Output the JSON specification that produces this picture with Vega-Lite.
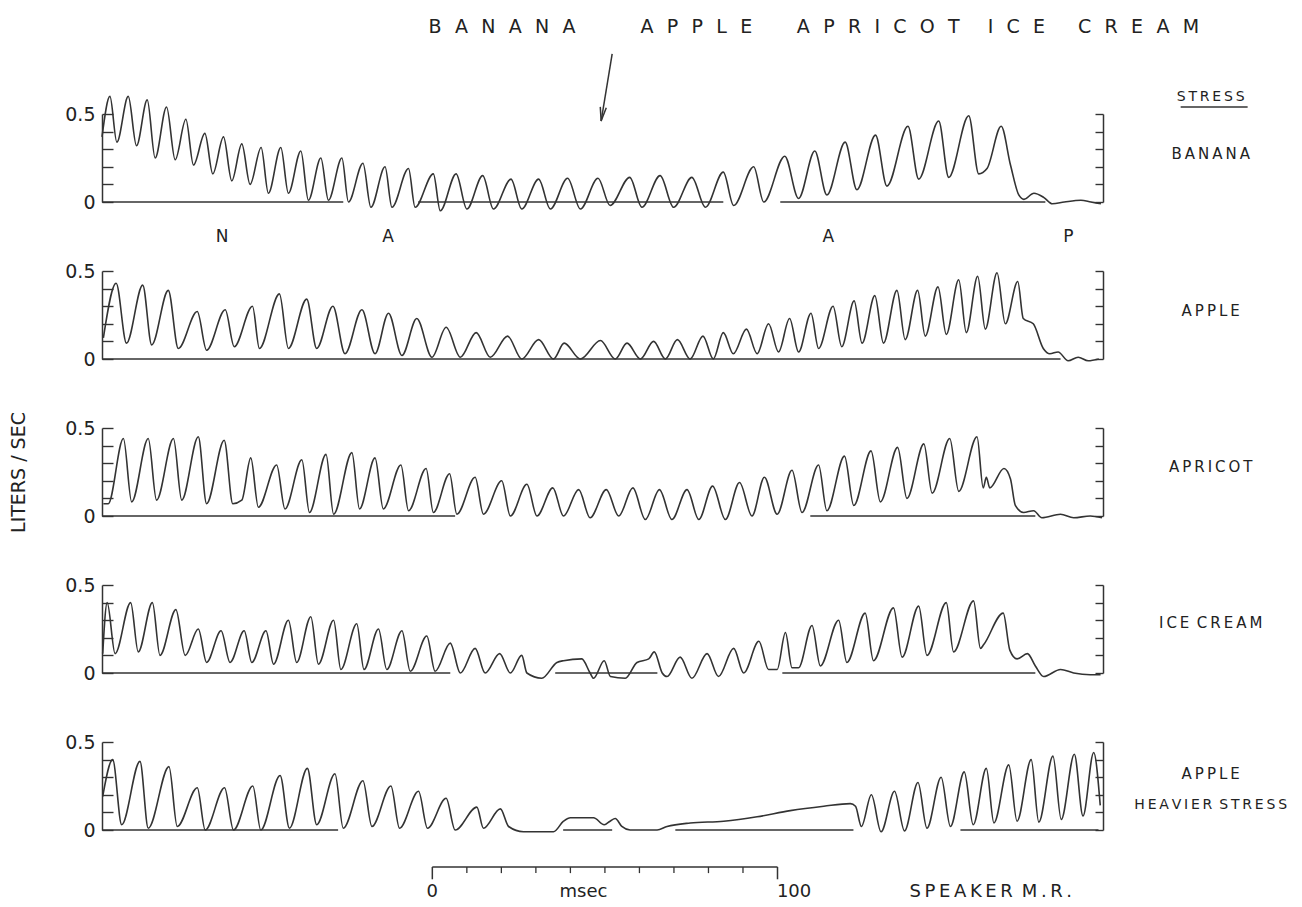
{
"$schema":"https://vega.github.io/schema/vega-lite/v6.json",
"background":"white",
"padding":{"left":9,"top":18,"right":2,"bottom":2},
"config":{"view":{"stroke":null},"font":"DejaVu Sans","text":{"color":"#222","font":"DejaVu Sans"}},
"spacing":69,
"bounds":"flush",
"datasets":{
"wave":[
{"p":1,"t":0,"v":0.37},{"p":1,"t":2.3,"v":0.6},{"p":1,"t":4.3,"v":0.34},{"p":1,"t":7.6,"v":0.6},{"p":1,"t":10,"v":0.32},{"p":1,"t":13.1,"v":0.58},{"p":1,"t":15.4,"v":0.25},{"p":1,"t":18.7,"v":0.54},{"p":1,"t":21.2,"v":0.24},{"p":1,"t":24.3,"v":0.47},{"p":1,"t":26.5,"v":0.21},{"p":1,"t":29.8,"v":0.39},{"p":1,"t":32.1,"v":0.16},{"p":1,"t":35.2,"v":0.37},{"p":1,"t":37.6,"v":0.12},{"p":1,"t":40.5,"v":0.33},{"p":1,"t":42.9,"v":0.1},{"p":1,"t":46.1,"v":0.31},{"p":1,"t":48.2,"v":0.05},{"p":1,"t":51.8,"v":0.31},{"p":1,"t":54,"v":0.05},{"p":1,"t":57.6,"v":0.29},{"p":1,"t":59.8,"v":0.01},{"p":1,"t":63.4,"v":0.25},{"p":1,"t":65.6,"v":0.01},{"p":1,"t":69.5,"v":0.25},{"p":1,"t":71.4,"v":0},{"p":1,"t":75.6,"v":0.22},{"p":1,"t":77.9,"v":-0.03},{"p":1,"t":82,"v":0.2},{"p":1,"t":84,"v":-0.03},{"p":1,"t":88.8,"v":0.19},{"p":1,"t":90.7,"v":-0.03},{"p":1,"t":96,"v":0.16},{"p":1,"t":98,"v":-0.05},{"p":1,"t":102.6,"v":0.16},{"p":1,"t":105.7,"v":-0.04},{"p":1,"t":110.3,"v":0.15},{"p":1,"t":113.4,"v":-0.04},{"p":1,"t":118.5,"v":0.13},{"p":1,"t":121.6,"v":-0.04},{"p":1,"t":126.5,"v":0.13},{"p":1,"t":129.9,"v":-0.04},{"p":1,"t":134.9,"v":0.135},{"p":1,"t":138.6,"v":-0.04},{"p":1,"t":143.7,"v":0.135},{"p":1,"t":147.2,"v":-0.02},{"p":1,"t":152.9,"v":0.14},{"p":1,"t":156.4,"v":-0.03},{"p":1,"t":161.7,"v":0.15},{"p":1,"t":165.6,"v":-0.03},{"p":1,"t":170.9,"v":0.14},{"p":1,"t":174.8,"v":-0.03},{"p":1,"t":180,"v":0.17},{"p":1,"t":183,"v":-0.02},{"p":1,"t":188.8,"v":0.2},{"p":1,"t":191.7,"v":0},{"p":1,"t":197.8,"v":0.26},{"p":1,"t":201.8,"v":0.02},{"p":1,"t":206.5,"v":0.29},{"p":1,"t":210,"v":0.04},{"p":1,"t":215.3,"v":0.34},{"p":1,"t":218.7,"v":0.07},{"p":1,"t":224.1,"v":0.38},{"p":1,"t":227.4,"v":0.09},{"p":1,"t":233.5,"v":0.43},{"p":1,"t":236.6,"v":0.13},{"p":1,"t":242.4,"v":0.46},{"p":1,"t":245.3,"v":0.14},{"p":1,"t":251.1,"v":0.49},{"p":1,"t":254,"v":0.16},{"p":1,"t":256.4,"v":0.19},{"p":1,"t":260.5,"v":0.43},{"p":1,"t":263.2,"v":0.21},{"p":1,"t":265.6,"v":0.04},{"p":1,"t":267.1,"v":0.015},{"p":1,"t":270,"v":0.05},{"p":1,"t":272.9,"v":0.025},{"p":1,"t":275.3,"v":-0.01},{"p":1,"t":278.8,"v":0},{"p":1,"t":283.6,"v":0.01},{"p":1,"t":286.5,"v":0},{"p":1,"t":289.4,"v":-0.01},
{"p":2,"t":0.4,"v":0.12},{"p":2,"t":4.1,"v":0.43},{"p":2,"t":7.1,"v":0.09},{"p":2,"t":11.8,"v":0.42},{"p":2,"t":14.4,"v":0.08},{"p":2,"t":19.2,"v":0.39},{"p":2,"t":22.1,"v":0.06},{"p":2,"t":27.6,"v":0.27},{"p":2,"t":30.3,"v":0.05},{"p":2,"t":35.7,"v":0.28},{"p":2,"t":38.3,"v":0.07},{"p":2,"t":43.6,"v":0.3},{"p":2,"t":45.6,"v":0.06},{"p":2,"t":51.4,"v":0.37},{"p":2,"t":54,"v":0.06},{"p":2,"t":59.3,"v":0.34},{"p":2,"t":62.2,"v":0.06},{"p":2,"t":66.9,"v":0.3},{"p":2,"t":70.4,"v":0.03},{"p":2,"t":75.3,"v":0.28},{"p":2,"t":79.1,"v":0.03},{"p":2,"t":83,"v":0.26},{"p":2,"t":86.9,"v":0.02},{"p":2,"t":91.2,"v":0.23},{"p":2,"t":95.6,"v":0.01},{"p":2,"t":99.7,"v":0.18},{"p":2,"t":103.8,"v":0.01},{"p":2,"t":108.4,"v":0.15},{"p":2,"t":112.5,"v":0.01},{"p":2,"t":117.5,"v":0.13},{"p":2,"t":121.6,"v":0},{"p":2,"t":126.5,"v":0.11},{"p":2,"t":130.8,"v":0},{"p":2,"t":133.9,"v":0.09},{"p":2,"t":138.6,"v":0},{"p":2,"t":144.4,"v":0.105},{"p":2,"t":148.7,"v":0},{"p":2,"t":152.1,"v":0.09},{"p":2,"t":156,"v":0},{"p":2,"t":159.8,"v":0.1},{"p":2,"t":163.2,"v":0},{"p":2,"t":166.7,"v":0.11},{"p":2,"t":170.4,"v":0},{"p":2,"t":174.1,"v":0.13},{"p":2,"t":177.1,"v":0},{"p":2,"t":180,"v":0.15},{"p":2,"t":182.9,"v":0.03},{"p":2,"t":186.7,"v":0.17},{"p":2,"t":189.8,"v":0.03},{"p":2,"t":193.1,"v":0.2},{"p":2,"t":196,"v":0.04},{"p":2,"t":199.2,"v":0.23},{"p":2,"t":201.8,"v":0.04},{"p":2,"t":205.4,"v":0.26},{"p":2,"t":207.6,"v":0.06},{"p":2,"t":211.8,"v":0.3},{"p":2,"t":214.3,"v":0.07},{"p":2,"t":217.9,"v":0.33},{"p":2,"t":220.2,"v":0.09},{"p":2,"t":223.9,"v":0.36},{"p":2,"t":226.4,"v":0.09},{"p":2,"t":230.3,"v":0.39},{"p":2,"t":232.7,"v":0.11},{"p":2,"t":236.3,"v":0.39},{"p":2,"t":238.5,"v":0.13},{"p":2,"t":242.2,"v":0.41},{"p":2,"t":244.6,"v":0.14},{"p":2,"t":248.2,"v":0.45},{"p":2,"t":250.4,"v":0.15},{"p":2,"t":253.7,"v":0.47},{"p":2,"t":255.9,"v":0.17},{"p":2,"t":259.3,"v":0.49},{"p":2,"t":261.7,"v":0.2},{"p":2,"t":265.3,"v":0.44},{"p":2,"t":266.9,"v":0.23},{"p":2,"t":269.8,"v":0.2},{"p":2,"t":272.7,"v":0.06},{"p":2,"t":274.6,"v":0.03},{"p":2,"t":277,"v":0.04},{"p":2,"t":279.9,"v":-0.01},{"p":2,"t":282.8,"v":0.01},{"p":2,"t":285.7,"v":-0.01},{"p":2,"t":288.8,"v":0},
{"p":3,"t":0.4,"v":0.07},{"p":3,"t":1.8,"v":0.07},{"p":3,"t":6.2,"v":0.44},{"p":3,"t":8.6,"v":0.08},{"p":3,"t":13.4,"v":0.44},{"p":3,"t":15.8,"v":0.09},{"p":3,"t":20.7,"v":0.44},{"p":3,"t":23.1,"v":0.09},{"p":3,"t":27.9,"v":0.45},{"p":3,"t":30.3,"v":0.07},{"p":3,"t":35.4,"v":0.43},{"p":3,"t":37.9,"v":0.07},{"p":3,"t":40.5,"v":0.09},{"p":3,"t":43.1,"v":0.33},{"p":3,"t":45.3,"v":0.05},{"p":3,"t":50.6,"v":0.29},{"p":3,"t":53,"v":0.04},{"p":3,"t":57.9,"v":0.32},{"p":3,"t":60.1,"v":0.02},{"p":3,"t":64.9,"v":0.35},{"p":3,"t":67.1,"v":0.01},{"p":3,"t":72.4,"v":0.36},{"p":3,"t":74.6,"v":0.04},{"p":3,"t":79.1,"v":0.33},{"p":3,"t":81.5,"v":0.04},{"p":3,"t":86.6,"v":0.29},{"p":3,"t":88.8,"v":0.03},{"p":3,"t":93.9,"v":0.27},{"p":3,"t":96,"v":0.02},{"p":3,"t":100.7,"v":0.24},{"p":3,"t":102.8,"v":0.01},{"p":3,"t":108.1,"v":0.22},{"p":3,"t":110.5,"v":0.01},{"p":3,"t":115.8,"v":0.2},{"p":3,"t":118.3,"v":0},{"p":3,"t":123.1,"v":0.18},{"p":3,"t":126,"v":0},{"p":3,"t":130.6,"v":0.16},{"p":3,"t":133.7,"v":0},{"p":3,"t":138.1,"v":0.15},{"p":3,"t":141.4,"v":-0.01},{"p":3,"t":146.1,"v":0.15},{"p":3,"t":149.7,"v":0},{"p":3,"t":153.8,"v":0.16},{"p":3,"t":157.4,"v":-0.02},{"p":3,"t":161.5,"v":0.15},{"p":3,"t":165.1,"v":-0.02},{"p":3,"t":169.5,"v":0.15},{"p":3,"t":172.9,"v":-0.02},{"p":3,"t":176.9,"v":0.17},{"p":3,"t":180.6,"v":-0.02},{"p":3,"t":184.7,"v":0.19},{"p":3,"t":188.3,"v":0},{"p":3,"t":191.9,"v":0.22},{"p":3,"t":195.6,"v":0.01},{"p":3,"t":199.9,"v":0.26},{"p":3,"t":202.8,"v":0.02},{"p":3,"t":207.6,"v":0.29},{"p":3,"t":210,"v":0.03},{"p":3,"t":215.1,"v":0.34},{"p":3,"t":217.8,"v":0.06},{"p":3,"t":222.8,"v":0.37},{"p":3,"t":225.5,"v":0.08},{"p":3,"t":230.5,"v":0.39},{"p":3,"t":233.2,"v":0.1},{"p":3,"t":238.1,"v":0.41},{"p":3,"t":240.5,"v":0.13},{"p":3,"t":245.6,"v":0.44},{"p":3,"t":248.2,"v":0.14},{"p":3,"t":253.5,"v":0.45},{"p":3,"t":255.3,"v":0.16},{"p":3,"t":256.2,"v":0.22},{"p":3,"t":257.2,"v":0.16},{"p":3,"t":261.3,"v":0.27},{"p":3,"t":263.2,"v":0.21},{"p":3,"t":264.6,"v":0.06},{"p":3,"t":267,"v":0.02},{"p":3,"t":269.9,"v":0.03},{"p":3,"t":272.3,"v":-0.01},{"p":3,"t":277.7,"v":0.01},{"p":3,"t":281.5,"v":-0.01},{"p":3,"t":286.3,"v":0},{"p":3,"t":289.7,"v":-0.01},
{"p":4,"t":0.2,"v":0.11},{"p":4,"t":1.5,"v":0.4},{"p":4,"t":3.8,"v":0.11},{"p":4,"t":8.3,"v":0.4},{"p":4,"t":10.5,"v":0.12},{"p":4,"t":14.6,"v":0.4},{"p":4,"t":16.8,"v":0.1},{"p":4,"t":21.4,"v":0.36},{"p":4,"t":24.1,"v":0.1},{"p":4,"t":27.9,"v":0.25},{"p":4,"t":30.3,"v":0.06},{"p":4,"t":34.5,"v":0.24},{"p":4,"t":37.1,"v":0.06},{"p":4,"t":41.2,"v":0.24},{"p":4,"t":43.4,"v":0.06},{"p":4,"t":47.5,"v":0.24},{"p":4,"t":49.7,"v":0.05},{"p":4,"t":54,"v":0.3},{"p":4,"t":56.4,"v":0.06},{"p":4,"t":60.5,"v":0.32},{"p":4,"t":62.7,"v":0.05},{"p":4,"t":67.1,"v":0.3},{"p":4,"t":69.2,"v":0.02},{"p":4,"t":73.8,"v":0.28},{"p":4,"t":75.9,"v":0.02},{"p":4,"t":80.1,"v":0.25},{"p":4,"t":82.5,"v":0.02},{"p":4,"t":86.9,"v":0.24},{"p":4,"t":89.3,"v":0.01},{"p":4,"t":94.1,"v":0.21},{"p":4,"t":96.5,"v":0.01},{"p":4,"t":100.9,"v":0.17},{"p":4,"t":103.8,"v":0},{"p":4,"t":108.1,"v":0.14},{"p":4,"t":111,"v":0},{"p":4,"t":115.2,"v":0.11},{"p":4,"t":118.3,"v":0},{"p":4,"t":121.6,"v":0.1},{"p":4,"t":123.1,"v":0},{"p":4,"t":127.4,"v":-0.03},{"p":4,"t":131.8,"v":0.06},{"p":4,"t":133.7,"v":0.07},{"p":4,"t":139,"v":0.08},{"p":4,"t":141.4,"v":0},{"p":4,"t":142.4,"v":-0.03},{"p":4,"t":145.5,"v":0.07},{"p":4,"t":147.3,"v":-0.02},{"p":4,"t":151.6,"v":-0.03},{"p":4,"t":155,"v":0.06},{"p":4,"t":158.4,"v":0.08},{"p":4,"t":160,"v":0.12},{"p":4,"t":162.3,"v":0},{"p":4,"t":163.7,"v":-0.02},{"p":4,"t":167.5,"v":0.09},{"p":4,"t":170.9,"v":-0.03},{"p":4,"t":175.3,"v":0.11},{"p":4,"t":178.6,"v":-0.02},{"p":4,"t":183,"v":0.14},{"p":4,"t":185.9,"v":0},{"p":4,"t":190.3,"v":0.18},{"p":4,"t":193.1,"v":0.02},{"p":4,"t":195.6,"v":0.02},{"p":4,"t":198,"v":0.23},{"p":4,"t":199.9,"v":0.03},{"p":4,"t":201.8,"v":0.03},{"p":4,"t":205.7,"v":0.27},{"p":4,"t":208.1,"v":0.04},{"p":4,"t":213.4,"v":0.3},{"p":4,"t":215.8,"v":0.06},{"p":4,"t":221.1,"v":0.34},{"p":4,"t":223.5,"v":0.07},{"p":4,"t":229.3,"v":0.37},{"p":4,"t":231.8,"v":0.09},{"p":4,"t":236.6,"v":0.38},{"p":4,"t":239,"v":0.1},{"p":4,"t":244.6,"v":0.4},{"p":4,"t":246.7,"v":0.12},{"p":4,"t":252.5,"v":0.41},{"p":4,"t":254.5,"v":0.14},{"p":4,"t":255.4,"v":0.16},{"p":4,"t":261.1,"v":0.34},{"p":4,"t":263,"v":0.13},{"p":4,"t":265.1,"v":0.08},{"p":4,"t":268.1,"v":0.11},{"p":4,"t":270.4,"v":0.04},{"p":4,"t":272.8,"v":-0.02},{"p":4,"t":277.7,"v":0.02},{"p":4,"t":281.5,"v":0},{"p":4,"t":286.3,"v":-0.01},{"p":4,"t":289.3,"v":-0.01},
{"p":5,"t":0.2,"v":0.19},{"p":5,"t":3.1,"v":0.4},{"p":5,"t":5.7,"v":0.03},{"p":5,"t":11,"v":0.39},{"p":5,"t":13.4,"v":0.01},{"p":5,"t":19.4,"v":0.36},{"p":5,"t":21.8,"v":0.02},{"p":5,"t":27.6,"v":0.24},{"p":5,"t":29.9,"v":0},{"p":5,"t":35.5,"v":0.24},{"p":5,"t":38.1,"v":0},{"p":5,"t":43.7,"v":0.25},{"p":5,"t":46,"v":0},{"p":5,"t":51.6,"v":0.31},{"p":5,"t":54.3,"v":0.01},{"p":5,"t":59.5,"v":0.35},{"p":5,"t":62.2,"v":0.03},{"p":5,"t":67.5,"v":0.32},{"p":5,"t":69.9,"v":0.01},{"p":5,"t":75.6,"v":0.28},{"p":5,"t":78.2,"v":0.02},{"p":5,"t":83.7,"v":0.25},{"p":5,"t":86.2,"v":0.01},{"p":5,"t":91.7,"v":0.22},{"p":5,"t":94.3,"v":0.01},{"p":5,"t":99.7,"v":0.18},{"p":5,"t":102.3,"v":0},{"p":5,"t":108.6,"v":0.13},{"p":5,"t":110.5,"v":0.01},{"p":5,"t":115.4,"v":0.12},{"p":5,"t":117.8,"v":0.02},{"p":5,"t":122.1,"v":-0.01},{"p":5,"t":130.8,"v":-0.01},{"p":5,"t":133.7,"v":0.05},{"p":5,"t":135.7,"v":0.07},{"p":5,"t":142.4,"v":0.07},{"p":5,"t":145.5,"v":0.03},{"p":5,"t":147.2,"v":0.05},{"p":5,"t":148.7,"v":0.065},{"p":5,"t":150.6,"v":0.02},{"p":5,"t":153,"v":0},{"p":5,"t":160.8,"v":0},{"p":5,"t":163.7,"v":0.02},{"p":5,"t":170.4,"v":0.04},{"p":5,"t":180.1,"v":0.05},{"p":5,"t":189.8,"v":0.075},{"p":5,"t":199.4,"v":0.11},{"p":5,"t":209.1,"v":0.135},{"p":5,"t":216.8,"v":0.15},{"p":5,"t":218.3,"v":0.135},{"p":5,"t":220,"v":0.02},{"p":5,"t":222.9,"v":0.2},{"p":5,"t":225.7,"v":-0.01},{"p":5,"t":229.6,"v":0.22},{"p":5,"t":232.5,"v":-0.005},{"p":5,"t":236.4,"v":0.27},{"p":5,"t":239,"v":0.01},{"p":5,"t":243.1,"v":0.3},{"p":5,"t":245.8,"v":0.02},{"p":5,"t":249.8,"v":0.33},{"p":5,"t":252.4,"v":0.03},{"p":5,"t":256.2,"v":0.35},{"p":5,"t":258.4,"v":0.04},{"p":5,"t":262.7,"v":0.37},{"p":5,"t":265.1,"v":0.05},{"p":5,"t":269.2,"v":0.4},{"p":5,"t":271.4,"v":0.045},{"p":5,"t":275.5,"v":0.42},{"p":5,"t":277.9,"v":0.06},{"p":5,"t":281.7,"v":0.43},{"p":5,"t":284.2,"v":0.08},{"p":5,"t":287.3,"v":0.44},{"p":5,"t":289.2,"v":0.14}
],
"base":[
{"p":1,"t0":0,"t1":69.9},{"p":1,"t0":91.6,"t1":180},{"p":1,"t0":196.5,"t1":273.3},
{"p":2,"t0":0,"t1":277.7},
{"p":3,"t0":0,"t1":102.3},{"p":3,"t0":205.2,"t1":270.4},
{"p":4,"t0":0,"t1":100.9},{"p":4,"t0":131.3,"t1":160.9},{"p":4,"t0":197.1,"t1":270.4},
{"p":5,"t0":0,"t1":68.4},{"p":5,"t0":133.6,"t1":147.8},{"p":5,"t0":166.1,"t1":217.7},{"p":5,"t0":248.7,"t1":288.7}
],
"side":[
{"p":1,"t":321.2,"v":0.275,"label":"B\u2009A\u2009N\u2009A\u2009N\u2009A"},
{"p":2,"t":321.2,"v":0.275,"label":"A\u2009P\u2009P\u2009L\u2009E"},
{"p":3,"t":321.2,"v":0.278,"label":"A\u2009P\u2009R\u2009I\u2009C\u2009O\u2009T"},
{"p":4,"t":321.2,"v":0.284,"label":"I\u2009C\u2009E\u2002C\u2009R\u2009E\u2009A\u2009M"},
{"p":5,"t":321.2,"v":0.318,"label":"A\u2009P\u2009P\u2009L\u2009E"}
]
},
"vconcat":[
{"width":1001,"height":88,
 "layer":[
  {"data":{"name":"wave"},"transform":[{"filter":"datum.p==1"}],"mark":{"type":"line","interpolate":"monotone","stroke":"#333","strokeWidth":1.6,"clip":false},
   "encoding":{"x":{"field":"t","type":"quantitative","scale":{"domain":[0,290]},"axis":null},
    "y":{"field":"v","type":"quantitative","scale":{"domain":[0,0.5]},"axis":{"orient":"left","values":[0,0.1,0.2,0.3,0.4,0.5],"labelExpr":"datum.value==0?'0':datum.value==0.5?'0.5':''","tickSize":-11,"labelPadding":18,"labelFontSize":19,"labelFont":"DejaVu Sans","labelColor":"#222","grid":false,"title":null,"domainWidth":1.5,"tickWidth":1.4,"domainColor":"#333","tickColor":"#333"}}}},
  {"data":{"name":"base"},"transform":[{"filter":"datum.p==1"}],"mark":{"type":"rule","stroke":"#333","strokeWidth":1.5},
   "encoding":{"x":{"field":"t0","type":"quantitative","scale":{"domain":[0,290]},"axis":null},"x2":{"field":"t1"},
    "y":{"datum":0,"type":"quantitative","scale":{"domain":[0,0.5]},"axis":{"orient":"right","values":[0,0.1,0.2,0.3,0.4,0.5],"labels":false,"tickSize":-8,"grid":false,"title":null,"domainWidth":1.5,"tickWidth":1.4,"domainColor":"#333","tickColor":"#333"}}}},
  {"data":{"name":"side"},"transform":[{"filter":"datum.p==1"}],"mark":{"type":"text","fontSize":15,"align":"center","baseline":"middle"},
   "encoding":{"x":{"field":"t","type":"quantitative","scale":{"domain":[0,290]},"axis":null},"y":{"field":"v","type":"quantitative","scale":{"domain":[0,0.5]},"axis":null},"text":{"field":"label"}}},
  {"data":{"values":[{"t":115.9,"v":0.994,"label":"B\u2002\u2009A\u2002\u2009N\u2002\u2009A\u2002\u2009N\u2002\u2009A"},{"t":172.2,"v":0.994,"label":"A\u2002\u2009P\u2002\u2009P\u2002\u2009L\u2002\u2009E"},{"t":224.9,"v":0.994,"label":"A\u2002\u2009P\u2002\u2009R\u2002\u2009I\u2002\u2009C\u2002\u2009O\u2002\u2009T"},{"t":264.9,"v":0.994,"label":"I\u2002\u2009C\u2002\u2009E"},{"t":300.3,"v":0.994,"label":"C\u2002\u2009R\u2002\u2009E\u2002\u2009A\u2002\u2009M"}]},
   "mark":{"type":"text","fontSize":19,"align":"center","baseline":"middle"},
   "encoding":{"x":{"field":"t","type":"quantitative","scale":{"domain":[0,290]},"axis":null},"y":{"field":"v","type":"quantitative","scale":{"domain":[0,0.5]},"axis":null},"text":{"field":"label"}}},
  {"data":{"values":[{"t":321.2,"v":0.597,"label":"S\u2009T\u2009R\u2009E\u2009S\u2009S"}]},
   "mark":{"type":"text","fontSize":14,"align":"center","baseline":"middle"},
   "encoding":{"x":{"field":"t","type":"quantitative","scale":{"domain":[0,290]},"axis":null},"y":{"field":"v","type":"quantitative","scale":{"domain":[0,0.5]},"axis":null},"text":{"field":"label"}}},
  {"data":{"values":[{"t":312.5,"t2":331.9,"v":0.54}]},"mark":{"type":"rule","stroke":"#333","strokeWidth":1.5},
   "encoding":{"x":{"field":"t","type":"quantitative","scale":{"domain":[0,290]},"axis":null},"x2":{"field":"t2"},"y":{"field":"v","type":"quantitative","scale":{"domain":[0,0.5]},"axis":null}}},
  {"data":{"values":[{"t":147.8,"v":0.841,"t2":144.6,"v2":0.46}]},"mark":{"type":"rule","stroke":"#333","strokeWidth":1.5},
   "encoding":{"x":{"field":"t","type":"quantitative","scale":{"domain":[0,290]},"axis":null},"x2":{"field":"t2"},"y":{"field":"v","type":"quantitative","scale":{"domain":[0,0.5]},"axis":null},"y2":{"field":"v2"}}},
  {"data":{"values":[{"t":144.6,"v":0.46}]},"mark":{"type":"point","shape":"M -0.35 -1.6 L 0 0 L 0.35 -1.6","size":300,"filled":false,"stroke":"#333","strokeWidth":1.5,"angle":9,"opacity":1},
   "encoding":{"x":{"field":"t","type":"quantitative","scale":{"domain":[0,290]},"axis":null},"y":{"field":"v","type":"quantitative","scale":{"domain":[0,0.5]},"axis":null}}},
  {"data":{"values":[{"t":34.8,"v":-0.199,"label":"N"},{"t":82.9,"v":-0.199,"label":"A"},{"t":210.4,"v":-0.199,"label":"A"},{"t":280,"v":-0.199,"label":"P"}]},
   "mark":{"type":"text","fontSize":17,"align":"center","baseline":"middle"},
   "encoding":{"x":{"field":"t","type":"quantitative","scale":{"domain":[0,290]},"axis":null},"y":{"field":"v","type":"quantitative","scale":{"domain":[0,0.5]},"axis":null},"text":{"field":"label"}}}
 ],
 "resolve":{"axis":{"y":"independent"}}
},
{"width":1001,"height":88,
 "layer":[
  {"data":{"name":"wave"},"transform":[{"filter":"datum.p==2"}],"mark":{"type":"line","interpolate":"monotone","stroke":"#333","strokeWidth":1.6,"clip":false},
   "encoding":{"x":{"field":"t","type":"quantitative","scale":{"domain":[0,290]},"axis":null},
    "y":{"field":"v","type":"quantitative","scale":{"domain":[0,0.5]},"axis":{"orient":"left","values":[0,0.1,0.2,0.3,0.4,0.5],"labelExpr":"datum.value==0?'0':datum.value==0.5?'0.5':''","tickSize":-11,"labelPadding":18,"labelFontSize":19,"labelFont":"DejaVu Sans","labelColor":"#222","grid":false,"title":null,"domainWidth":1.5,"tickWidth":1.4,"domainColor":"#333","tickColor":"#333"}}}},
  {"data":{"name":"base"},"transform":[{"filter":"datum.p==2"}],"mark":{"type":"rule","stroke":"#333","strokeWidth":1.5},
   "encoding":{"x":{"field":"t0","type":"quantitative","scale":{"domain":[0,290]},"axis":null},"x2":{"field":"t1"},
    "y":{"datum":0,"type":"quantitative","scale":{"domain":[0,0.5]},"axis":{"orient":"right","values":[0,0.1,0.2,0.3,0.4,0.5],"labels":false,"tickSize":-8,"grid":false,"title":null,"domainWidth":1.5,"tickWidth":1.4,"domainColor":"#333","tickColor":"#333"}}}},
  {"data":{"name":"side"},"transform":[{"filter":"datum.p==2"}],"mark":{"type":"text","fontSize":15,"align":"center","baseline":"middle"},
   "encoding":{"x":{"field":"t","type":"quantitative","scale":{"domain":[0,290]},"axis":null},"y":{"field":"v","type":"quantitative","scale":{"domain":[0,0.5]},"axis":null},"text":{"field":"label"}}}
 ],
 "resolve":{"axis":{"y":"independent"}}
},
{"width":1001,"height":88,
 "layer":[
  {"data":{"name":"wave"},"transform":[{"filter":"datum.p==3"}],"mark":{"type":"line","interpolate":"monotone","stroke":"#333","strokeWidth":1.6,"clip":false},
   "encoding":{"x":{"field":"t","type":"quantitative","scale":{"domain":[0,290]},"axis":null},
    "y":{"field":"v","type":"quantitative","scale":{"domain":[0,0.5]},"axis":{"orient":"left","values":[0,0.1,0.2,0.3,0.4,0.5],"labelExpr":"datum.value==0?'0':datum.value==0.5?'0.5':''","tickSize":-11,"labelPadding":18,"labelFontSize":19,"labelFont":"DejaVu Sans","labelColor":"#222","grid":false,"title":"LITERS / SEC","titleFont":"DejaVu Sans","titleFontSize":19,"titleFontWeight":"normal","titleColor":"#222","titlePadding":36,"domainWidth":1.5,"tickWidth":1.4,"domainColor":"#333","tickColor":"#333"}}}},
  {"data":{"name":"base"},"transform":[{"filter":"datum.p==3"}],"mark":{"type":"rule","stroke":"#333","strokeWidth":1.5},
   "encoding":{"x":{"field":"t0","type":"quantitative","scale":{"domain":[0,290]},"axis":null},"x2":{"field":"t1"},
    "y":{"datum":0,"type":"quantitative","scale":{"domain":[0,0.5]},"axis":{"orient":"right","values":[0,0.1,0.2,0.3,0.4,0.5],"labels":false,"tickSize":-8,"grid":false,"title":null,"domainWidth":1.5,"tickWidth":1.4,"domainColor":"#333","tickColor":"#333"}}}},
  {"data":{"name":"side"},"transform":[{"filter":"datum.p==3"}],"mark":{"type":"text","fontSize":15,"align":"center","baseline":"middle"},
   "encoding":{"x":{"field":"t","type":"quantitative","scale":{"domain":[0,290]},"axis":null},"y":{"field":"v","type":"quantitative","scale":{"domain":[0,0.5]},"axis":null},"text":{"field":"label"}}}
 ],
 "resolve":{"axis":{"y":"independent"}}
},
{"width":1001,"height":88,
 "layer":[
  {"data":{"name":"wave"},"transform":[{"filter":"datum.p==4"}],"mark":{"type":"line","interpolate":"monotone","stroke":"#333","strokeWidth":1.6,"clip":false},
   "encoding":{"x":{"field":"t","type":"quantitative","scale":{"domain":[0,290]},"axis":null},
    "y":{"field":"v","type":"quantitative","scale":{"domain":[0,0.5]},"axis":{"orient":"left","values":[0,0.1,0.2,0.3,0.4,0.5],"labelExpr":"datum.value==0?'0':datum.value==0.5?'0.5':''","tickSize":-11,"labelPadding":18,"labelFontSize":19,"labelFont":"DejaVu Sans","labelColor":"#222","grid":false,"title":null,"domainWidth":1.5,"tickWidth":1.4,"domainColor":"#333","tickColor":"#333"}}}},
  {"data":{"name":"base"},"transform":[{"filter":"datum.p==4"}],"mark":{"type":"rule","stroke":"#333","strokeWidth":1.5},
   "encoding":{"x":{"field":"t0","type":"quantitative","scale":{"domain":[0,290]},"axis":null},"x2":{"field":"t1"},
    "y":{"datum":0,"type":"quantitative","scale":{"domain":[0,0.5]},"axis":{"orient":"right","values":[0,0.1,0.2,0.3,0.4,0.5],"labels":false,"tickSize":-8,"grid":false,"title":null,"domainWidth":1.5,"tickWidth":1.4,"domainColor":"#333","tickColor":"#333"}}}},
  {"data":{"name":"side"},"transform":[{"filter":"datum.p==4"}],"mark":{"type":"text","fontSize":15,"align":"center","baseline":"middle"},
   "encoding":{"x":{"field":"t","type":"quantitative","scale":{"domain":[0,290]},"axis":null},"y":{"field":"v","type":"quantitative","scale":{"domain":[0,0.5]},"axis":null},"text":{"field":"label"}}}
 ],
 "resolve":{"axis":{"y":"independent"}}
},
{"width":1001,"height":88,
 "layer":[
  {"data":{"name":"wave"},"transform":[{"filter":"datum.p==5"}],"mark":{"type":"line","interpolate":"monotone","stroke":"#333","strokeWidth":1.6,"clip":false},
   "encoding":{"x":{"field":"t","type":"quantitative","scale":{"domain":[0,290]},"axis":null},
    "y":{"field":"v","type":"quantitative","scale":{"domain":[0,0.5]},"axis":{"orient":"left","values":[0,0.1,0.2,0.3,0.4,0.5],"labelExpr":"datum.value==0?'0':datum.value==0.5?'0.5':''","tickSize":-11,"labelPadding":18,"labelFontSize":19,"labelFont":"DejaVu Sans","labelColor":"#222","grid":false,"title":null,"domainWidth":1.5,"tickWidth":1.4,"domainColor":"#333","tickColor":"#333"}}}},
  {"data":{"name":"base"},"transform":[{"filter":"datum.p==5"}],"mark":{"type":"rule","stroke":"#333","strokeWidth":1.5},
   "encoding":{"x":{"field":"t0","type":"quantitative","scale":{"domain":[0,290]},"axis":null},"x2":{"field":"t1"},
    "y":{"datum":0,"type":"quantitative","scale":{"domain":[0,0.5]},"axis":{"orient":"right","values":[0,0.1,0.2,0.3,0.4,0.5],"labels":false,"tickSize":-8,"grid":false,"title":null,"domainWidth":1.5,"tickWidth":1.4,"domainColor":"#333","tickColor":"#333"}}}},
  {"data":{"name":"side"},"transform":[{"filter":"datum.p==5"}],"mark":{"type":"text","fontSize":15,"align":"center","baseline":"middle"},
   "encoding":{"x":{"field":"t","type":"quantitative","scale":{"domain":[0,290]},"axis":null},"y":{"field":"v","type":"quantitative","scale":{"domain":[0,0.5]},"axis":null},"text":{"field":"label"}}},
  {"data":{"values":[{"t":321.2,"v":0.142,"label":"H\u2009E\u2009A\u2009V\u2009I\u2009E\u2009R\u2002S\u2009T\u2009R\u2009E\u2009S\u2009S"}]},"mark":{"type":"text","fontSize":14,"align":"center","baseline":"middle"},
   "encoding":{"x":{"field":"t","type":"quantitative","scale":{"domain":[0,290]},"axis":null},"y":{"field":"v","type":"quantitative","scale":{"domain":[0,0.5]},"axis":null},"text":{"field":"label"}}},
  {"data":{"values":[{"t":95.7,"t2":195.7}]},"mark":{"type":"rule","stroke":"#333","strokeWidth":1.5},
   "encoding":{"x":{"field":"t","type":"quantitative","scale":{"domain":[0,290]},"axis":null},"x2":{"field":"t2"},"y":{"datum":-0.21,"type":"quantitative","scale":{"domain":[0,0.5]},"axis":null}}},
  {"data":{"values":[{"t":105.7},{"t":115.7},{"t":125.7},{"t":135.7},{"t":145.7},{"t":155.7},{"t":165.7},{"t":175.7},{"t":185.7}]},"mark":{"type":"rule","stroke":"#333","strokeWidth":1.3},
   "encoding":{"x":{"field":"t","type":"quantitative","scale":{"domain":[0,290]},"axis":null},"y":{"datum":-0.21,"type":"quantitative","scale":{"domain":[0,0.5]},"axis":null},"y2":{"datum":-0.245}}},
  {"data":{"values":[{"t":95.7},{"t":195.7}]},"mark":{"type":"rule","stroke":"#333","strokeWidth":1.5},
   "encoding":{"x":{"field":"t","type":"quantitative","scale":{"domain":[0,290]},"axis":null},"y":{"datum":-0.21,"type":"quantitative","scale":{"domain":[0,0.5]},"axis":null},"y2":{"datum":-0.28}}},
  {"data":{"values":[{"t":95.7,"v":-0.355,"label":"0"},{"t":139.5,"v":-0.355,"label":"msec"},{"t":200.5,"v":-0.355,"label":"100"}]},"mark":{"type":"text","fontSize":18,"align":"center","baseline":"middle"},
   "encoding":{"x":{"field":"t","type":"quantitative","scale":{"domain":[0,290]},"axis":null},"y":{"field":"v","type":"quantitative","scale":{"domain":[0,0.5]},"axis":null},"text":{"field":"label"}}},
  {"data":{"values":[{"t":257.5,"v":-0.355,"label":"S\u2009P\u2009E\u2009A\u2009K\u2009E\u2009R\u2002M\u2009.\u2009R\u2009."}]},"mark":{"type":"text","fontSize":18,"align":"center","baseline":"middle"},
   "encoding":{"x":{"field":"t","type":"quantitative","scale":{"domain":[0,290]},"axis":null},"y":{"field":"v","type":"quantitative","scale":{"domain":[0,0.5]},"axis":null},"text":{"field":"label"}}}
 ],
 "resolve":{"axis":{"y":"independent"}}
}
]
}
